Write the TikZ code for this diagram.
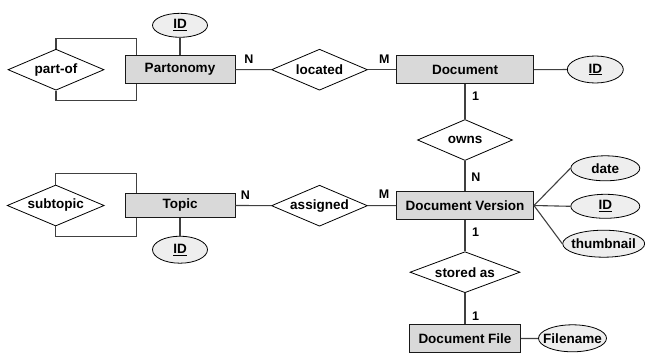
\documentclass[tikz,border=0pt]{standalone}
\usepackage{fontspec}
\setmainfont{Liberation Sans}
\usetikzlibrary{shapes.geometric}
\definecolor{entfill}{HTML}{D9D9D9}
\definecolor{attfill}{HTML}{EEEEEE}
\definecolor{edgecol}{HTML}{404040}
% zero-width box so that shape sizes come only from the minimum sizes
\newcommand{\zw}[1]{\makebox[0pt]{#1}}
\begin{document}
\begin{tikzpicture}[x=1pt,y=-1pt,
  every node/.style={font=\fontsize{13.5}{15}\selectfont\bfseries, inner sep=0pt},
  entity/.style={rectangle, draw=black!90, fill=entfill, line width=0.9pt},
  rel/.style={diamond, draw=black, fill=white, line width=0.8pt, minimum width=96pt, minimum height=41pt},
  attr/.style={ellipse, draw=black, fill=attfill, line width=0.8pt, minimum height=26pt},
  conn/.style={draw=edgecol, line width=1.1pt},
  card/.style={font=\fontsize{12.5}{14}\selectfont\bfseries}]
\useasboundingbox (0,0) rectangle (645,361);

% entities
\node[entity, minimum width=110pt, minimum height=28pt] (part) at (180,69.5) {\zw{Partonomy}};
\node[entity, minimum width=137pt, minimum height=28pt] (doc) at (465,69.7) {\zw{Document}};
\node[entity, minimum width=110pt, minimum height=24pt] (topic) at (180,205.4) {\zw{Topic}};
\node[entity, minimum width=137pt, minimum height=28pt] (dv) at (465,205.5) {\zw{Document Version}};
\node[entity, minimum width=111pt, minimum height=28pt] (df) at (465,338.8) {\zw{Document File}};

% relationships
\node[rel] (pof) at (56,69.7) {\zw{part-of}};
\node[rel] (loc) at (319.5,69.7) {\zw{located}};
\node[rel, minimum width=95pt] (owns) at (465,140) {\zw{owns}};
\node[rel, minimum width=97pt] (sub) at (55.7,205.5) {\zw{subtopic}};
\node[rel] (asg) at (319.5,205.7) {\zw{assigned}};
\node[rel, minimum width=110pt] (sto) at (465,272.2) {\zw{stored as}};

% attributes
\node[attr, minimum width=55pt, minimum height=24pt] (pid) at (180,25.3) {\zw{\underline{ID}}};
\node[attr, minimum width=56pt, minimum height=27pt] (did) at (595.3,69.5) {\zw{\underline{ID}}};
\node[attr, minimum width=55pt, minimum height=27pt] (tid) at (180,249.7) {\zw{\underline{ID}}};
\node[attr, minimum width=69pt, minimum height=25pt] (date) at (605.3,168.3) {\zw{date}};
\node[attr, minimum width=69pt, minimum height=24pt] (vid) at (605.3,206.3) {\zw{\underline{ID}}};
\node[attr, minimum width=82pt, minimum height=27pt] (thumb) at (603.7,243.7) {\zw{thumbnail}};
\node[attr, minimum width=68pt, minimum height=27pt] (fname) at (572.5,338.3) {\zw{Filename}};

% connectors
\draw[conn] (part) -- (loc);
\draw[conn] (loc) -- (doc);
\draw[conn] (doc) -- (owns);
\draw[conn] (owns) -- (dv);
\draw[conn] (topic) -- (asg);
\draw[conn] (asg) -- (dv);
\draw[conn] (dv) -- (sto);
\draw[conn] (sto) -- (df);
\draw[conn] (df) -- (fname);
\draw[conn] (pid) -- (part);
\draw[conn] (doc) -- (did);
\draw[conn] (topic) -- (tid);
\draw[conn] (dv.east) -- (date.west);
\draw[conn] (dv.east) -- (vid.west);
\draw[conn] (dv.east) -- (thumb.west);

% recursive loops
\draw[conn] (pof.north) -- ++(0,-10) -| ([xshift=11.7pt]part.north west);
\draw[conn] (pof.south) -- ++(0,10.3) -| ([xshift=11.7pt]part.south west);
\draw[conn] (sub.north) -- ++(0,-10.7) -| ([xshift=11.7pt]topic.north west);
\draw[conn] (sub.south) -- ++(0,10) -| ([xshift=11.7pt]topic.south west);

% cardinalities
\node[card] (c1) at (249,59) {N};
\node[card] (c2) at (384.3,59) {M};
\node[card] (c3) at (475.7,96) {1};
\node[card] (c4) at (476,177.3) {N};
\node[card] (c5) at (245.5,195.5) {N};
\node[card] (c6) at (384,194.3) {M};
\node[card] (c7) at (475.7,231.7) {1};
\node[card] (c8) at (475.7,315.7) {1};
\end{tikzpicture}
\end{document}
